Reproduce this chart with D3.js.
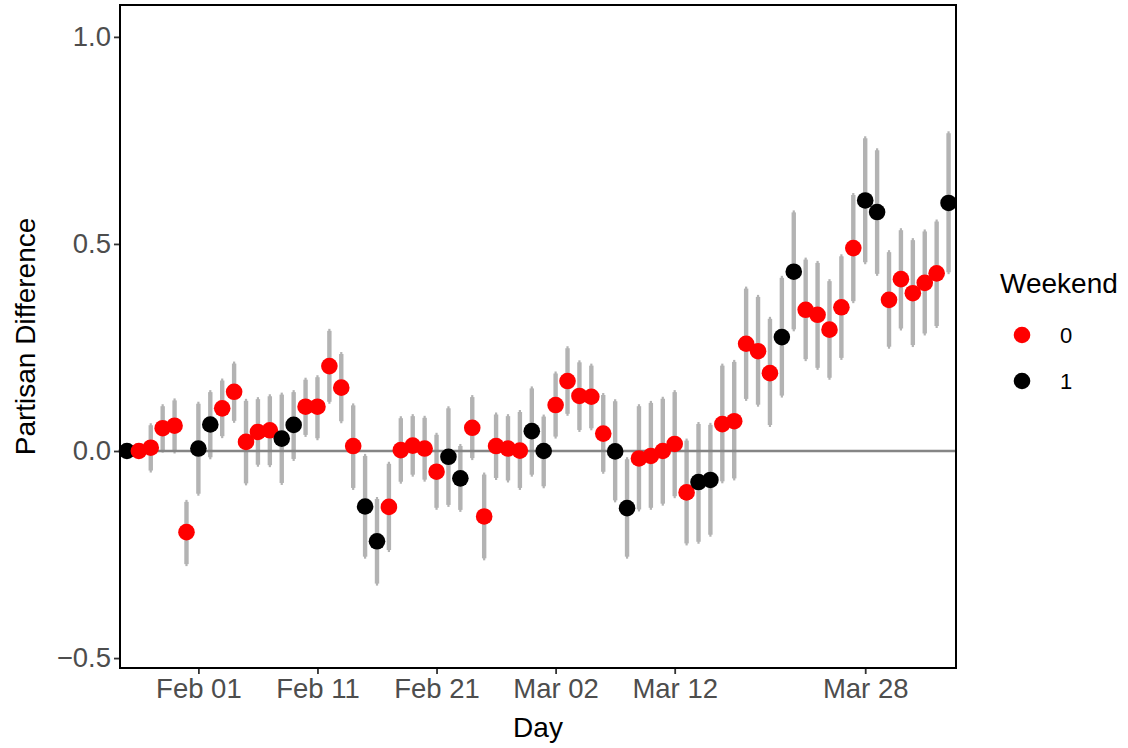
<!DOCTYPE html>
<html>
<head>
<meta charset="utf-8">
<script src="https://cdn.jsdelivr.net/npm/d3@7"></script>
<style>
  html, body { margin: 0; padding: 0; background: #fff; }
  svg { display: block; font-family: "Liberation Sans", Arial, Helvetica, sans-serif; }
</style>
</head>
<body>
<svg id="chart" width="1128" height="748"></svg>
<script>
// ---- data ----
const startDay = "2020-01-26";
const endDay = "2020-04-04";
const weekend = [1,0,0,0,0,0,1,1,0,0, 0,0,0,1,1,0,0,0,0,0, 1,1,0,0,0,0,0,1,1,0,
                 0,0,0,0,1,1,0,0,0,0, 0,1,1,0,0,0,0,0,1,1, 0,0,0,0,0,1,1,0,0,0,
                 0,0,1,1,0,0,0,0,0,1];
const estimate = [0, 0, 0.008, 0.055, 0.061, -0.196, 0.006, 0.064, 0.103, 0.143,
                  0.022, 0.046, 0.050, 0.030, 0.063, 0.107, 0.107, 0.205, 0.153, 0.012,
                  -0.134, -0.218, -0.135, 0.002, 0.013, 0.006, -0.050, -0.014, -0.066, 0.056,
                  -0.158, 0.012, 0.006, 0.001, 0.048, 0.000, 0.111, 0.169, 0.133, 0.131,
                  0.042, -0.001, -0.138, -0.018, -0.012, 0.000, 0.017, -0.100, -0.075, -0.070,
                  0.065, 0.072, 0.259, 0.241, 0.188, 0.275, 0.433, 0.341, 0.329, 0.293,
                  0.347, 0.490, 0.605, 0.577, 0.365, 0.415, 0.381, 0.406, 0.429, 0.599];
const lower = [null, null, -0.052, -0.004, -0.006, -0.278, -0.108, -0.020, 0.031, 0.068,
               -0.083, -0.038, -0.039, -0.082, -0.024, 0.034, 0.026, 0.114, 0.067, -0.094,
               -0.260, -0.325, -0.244, -0.079, -0.062, -0.074, -0.142, -0.135, -0.147, -0.022,
               -0.264, -0.070, -0.076, -0.094, -0.062, -0.090, 0.030, 0.085, 0.046, 0.050,
               -0.055, -0.124, -0.260, -0.146, -0.142, -0.132, -0.114, -0.228, -0.224, -0.207,
               -0.078, -0.071, 0.121, 0.107, 0.058, 0.129, 0.289, 0.217, 0.196, 0.172,
               0.220, 0.357, 0.451, 0.423, 0.247, 0.291, 0.251, 0.279, 0.297, 0.427];
const upper = [null, null, 0.067, 0.113, 0.127, -0.118, 0.119, 0.147, 0.175, 0.216,
               0.126, 0.130, 0.137, 0.141, 0.147, 0.177, 0.183, 0.295, 0.239, 0.115,
               -0.007, -0.111, -0.026, 0.084, 0.089, 0.085, 0.044, 0.108, 0.017, 0.135,
               -0.052, 0.093, 0.089, 0.099, 0.156, 0.088, 0.192, 0.253, 0.219, 0.211,
               0.140, 0.125, -0.015, 0.113, 0.121, 0.131, 0.147, 0.030, 0.070, 0.068,
               0.211, 0.220, 0.397, 0.377, 0.324, 0.423, 0.581, 0.467, 0.459, 0.415,
               0.475, 0.623, 0.760, 0.731, 0.485, 0.538, 0.514, 0.535, 0.559, 0.772];
const xTickLabels = ["2020-02-01", "2020-02-11", "2020-02-21", "2020-03-02", "2020-03-12", "2020-03-28"];
const yTickValues = [-0.5, 0, 0.5, 1.0];
const legendLevels = ["0", "1"];
const legendColors = ["#FF0000", "#000000"];

// ---- layout ----
const W = 1128, H = 748;
const panel = { left: 120, right: 956, top: 5, bottom: 668 };
const parse = d3.utcParse("%Y-%m-%d");
const days = d3.utcDay.range(parse(startDay), d3.utcDay.offset(parse(endDay), 1));
const rows = days.map((d, i) => ({ day: d, est: estimate[i], lo: lower[i], hi: upper[i], wk: String(weekend[i]) }));

const x = d3.scaleUtc()
  .domain([d3.utcHour.offset(days[0], -14), d3.utcHour.offset(days[days.length - 1], 15.6)])
  .range([panel.left, panel.right]);
const y = d3.scaleLinear()
  .domain([-0.524, 1.077])
  .range([panel.bottom, panel.top]);
const color = d3.scaleOrdinal().domain(legendLevels).range(legendColors);

const svg = d3.select("#chart");
svg.append("rect").attr("width", W).attr("height", H).attr("fill", "#fff");

const plot = svg.append("g");

// error bars
const bars = plot.append("g");
const withCI = rows.filter(r => r.lo !== null && r.hi !== null);
bars.selectAll("line.thin").data(withCI).join("line")
  .attr("x1", r => x(r.day)).attr("x2", r => x(r.day))
  .attr("y1", r => y(r.lo)).attr("y2", r => y(r.hi))
  .attr("stroke", "#B3B3B3").attr("stroke-width", 2.2);
bars.selectAll("line.thick").data(withCI).join("line")
  .attr("x1", r => x(r.day)).attr("x2", r => x(r.day))
  .attr("y1", r => y(r.lo) - 2).attr("y2", r => y(r.hi) + 2)
  .attr("stroke", "#B3B3B3").attr("stroke-width", 4.4);

// zero line
plot.append("line")
  .attr("x1", panel.left).attr("x2", panel.right)
  .attr("y1", y(0)).attr("y2", y(0))
  .attr("stroke", "#858585").attr("stroke-width", 2.4);

// points
plot.append("g").selectAll("circle").data(rows).join("circle")
  .attr("cx", r => x(r.day)).attr("cy", r => y(r.est))
  .attr("r", 8.3).attr("fill", r => color(r.wk));

// panel border
svg.append("rect")
  .attr("x", panel.left).attr("y", panel.top)
  .attr("width", panel.right - panel.left).attr("height", panel.bottom - panel.top)
  .attr("fill", "none").attr("stroke", "#000").attr("stroke-width", 2);

// y axis
const yAxis = d3.axisLeft(y).tickValues(yTickValues).tickSize(5).tickPadding(3)
  .tickFormat(d => d3.format(".1f")(d).replace("-", "\u2212"));
const gy = svg.append("g").attr("transform", `translate(${panel.left - 1},0)`).call(yAxis);
gy.select(".domain").remove();
gy.selectAll(".tick line").attr("stroke", "#333").attr("stroke-width", 1.8);
gy.selectAll(".tick text").attr("fill", "#4D4D4D").attr("font-size", 27.5)
  .attr("font-family", '"Liberation Sans", Arial, sans-serif');

// x axis
const xAxis = d3.axisBottom(x).tickValues(xTickLabels.map(parse)).tickSize(5).tickPadding(4)
  .tickFormat(d3.utcFormat("%b %d"));
const gx = svg.append("g").attr("transform", `translate(0,${panel.bottom + 1})`).call(xAxis);
gx.select(".domain").remove();
gx.selectAll(".tick line").attr("stroke", "#333").attr("stroke-width", 1.8);
gx.selectAll(".tick text").attr("fill", "#4D4D4D").attr("font-size", 27.5)
  .attr("font-family", '"Liberation Sans", Arial, sans-serif');

// axis titles
svg.append("text").attr("x", (panel.left + panel.right) / 2).attr("y", 737)
  .attr("text-anchor", "middle").attr("font-size", 28).attr("fill", "#000").text("Day");
svg.append("text").attr("transform", `translate(35,${(panel.top + panel.bottom) / 2}) rotate(-90)`)
  .attr("text-anchor", "middle").attr("font-size", 28).attr("fill", "#000").text("Partisan Difference");

// legend
const lg = svg.append("g");
lg.append("text").attr("x", 1000).attr("y", 293).attr("font-size", 28).attr("fill", "#000").text("Weekend");
const items = lg.selectAll("g.item").data(legendLevels).join("g")
  .attr("transform", (d, i) => `translate(1022,${335 + i * 46})`);
items.append("circle").attr("r", 8.3).attr("fill", d => color(d));
items.append("text").attr("x", 38).attr("y", 8).attr("font-size", 22).attr("fill", "#000").text(d => d);
</script>
</body>
</html>
